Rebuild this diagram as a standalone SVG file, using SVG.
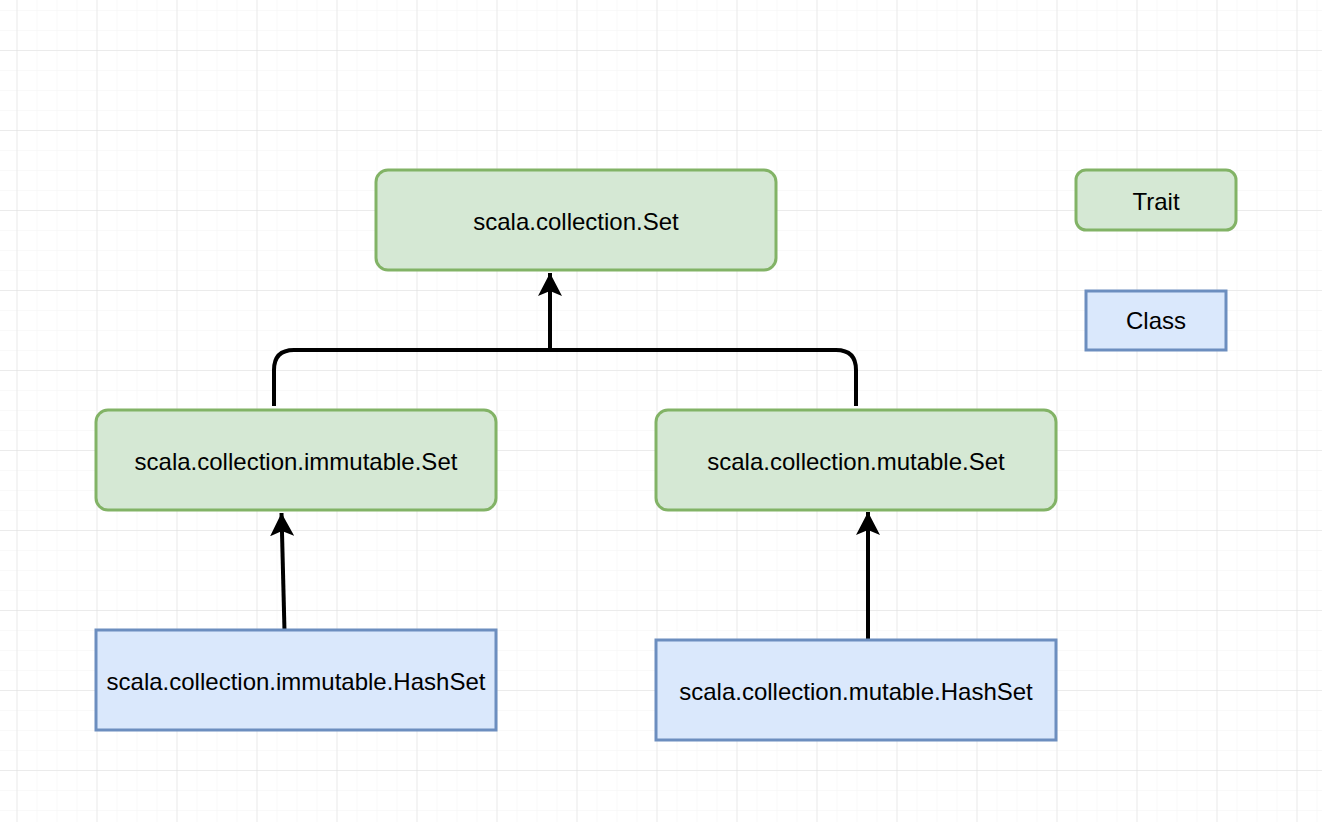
<svg xmlns="http://www.w3.org/2000/svg" width="1322" height="822" viewBox="0 0 1322 822">
<defs>
  <pattern id="minor" x="16.5" y="10" width="20" height="20" patternUnits="userSpaceOnUse">
    <path d="M0 0H20M0 0V20" fill="none" stroke="#f3f3f3" stroke-width="1"/>
  </pattern>
  <pattern id="major" x="16.5" y="50" width="80" height="80" patternUnits="userSpaceOnUse">
    <path d="M0 0H80M0 0V80" fill="none" stroke="#dddddd" stroke-width="1"/>
  </pattern>
  <marker id="arrow" viewBox="0 0 24 24" refX="23" refY="12" markerWidth="24" markerHeight="24" markerUnits="userSpaceOnUse" orient="auto">
    <path d="M23 12 L0 0 L5 12 L0 24 Z" fill="#000"/>
  </marker>
</defs>
<style>
  .trait { fill: #d5e8d4; stroke: #82b366; stroke-width: 3; }
  .cls { fill: #dae8fc; stroke: #6c8ebf; stroke-width: 3; }
  .lbl { font-family: "Liberation Sans", Arial, sans-serif; font-size: 24px; fill: #000; text-anchor: middle; }
  .edge { fill: none; stroke: #000; stroke-width: 4; }
</style>
<rect width="1322" height="822" fill="#ffffff"/>
<rect width="1322" height="822" fill="url(#minor)"/>
<rect width="1322" height="822" fill="url(#major)"/>

<g id="connectors">
  <path class="edge" d="M274 406 V370 Q274 350 294 350 H836 Q856 350 856 370 V406"/>
  <path class="edge" d="M550 350 V273" marker-end="url(#arrow)"/>
  <path class="edge" d="M284.5 631 L281.5 513" marker-end="url(#arrow)"/>
  <path class="edge" d="M868 640 V512" marker-end="url(#arrow)"/>
</g>

<g id="node-collection-set">
  <rect class="trait" x="376" y="170" width="400" height="100" rx="12" ry="12"/>
  <text class="lbl" x="576" y="230">scala.collection.Set</text>
</g>
<g id="node-immutable-set">
  <rect class="trait" x="96" y="410" width="400" height="100" rx="12" ry="12"/>
  <text class="lbl" x="296" y="470">scala.collection.immutable.Set</text>
</g>
<g id="node-mutable-set">
  <rect class="trait" x="656" y="410" width="400" height="100" rx="12" ry="12"/>
  <text class="lbl" x="856" y="470">scala.collection.mutable.Set</text>
</g>
<g id="node-immutable-hashset">
  <rect class="cls" x="96" y="630" width="400" height="100"/>
  <text class="lbl" x="296" y="690">scala.collection.immutable.HashSet</text>
</g>
<g id="node-mutable-hashset">
  <rect class="cls" x="656" y="640" width="400" height="100"/>
  <text class="lbl" x="856" y="700">scala.collection.mutable.HashSet</text>
</g>
<g id="legend-trait">
  <rect class="trait" x="1076" y="170" width="160" height="60" rx="10" ry="10"/>
  <text class="lbl" x="1156" y="210">Trait</text>
</g>
<g id="legend-class">
  <rect class="cls" x="1086" y="291" width="140" height="59"/>
  <text class="lbl" x="1156" y="329">Class</text>
</g>
</svg>
